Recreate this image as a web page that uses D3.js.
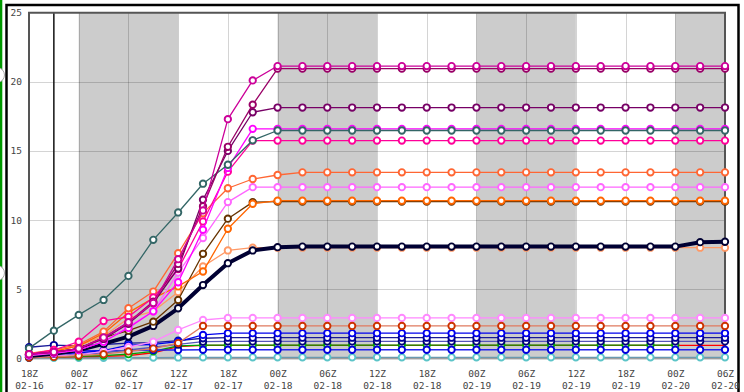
<!DOCTYPE html>
<html lang="en">
<head>
    <meta charset="UTF-8">
    <title>Snowfall plume</title>
    <style>
        body { margin: 0; background: #fff; }
        svg { display: block; }
        text { font-family: "DejaVu Sans Mono", monospace; font-size: 9.5px; fill: #444; }
    </style>
</head>
<body>
    <div id="chart"></div>

    <script src="https://d3js.org/d3.v7.min.js"></script>
    <script>
        // ---- data ----
        const startTime = "2024-02-16T18:00:00Z";
        const stepHours = 3;
        const nightBands = [
            ["2024-02-17T00:00:00Z", "2024-02-17T12:00:00Z"],
            ["2024-02-18T00:00:00Z", "2024-02-18T12:00:00Z"],
            ["2024-02-19T00:00:00Z", "2024-02-19T12:00:00Z"],
            ["2024-02-20T00:00:00Z", "2024-02-20T06:00:00Z"]
        ];
        const nowMarker = "2024-02-16T21:00:00Z";
        const tickTimes = ["2024-02-16T18:00:00Z", "2024-02-17T00:00:00Z", "2024-02-17T06:00:00Z", "2024-02-17T12:00:00Z",
            "2024-02-17T18:00:00Z", "2024-02-18T00:00:00Z", "2024-02-18T06:00:00Z", "2024-02-18T12:00:00Z",
            "2024-02-18T18:00:00Z", "2024-02-19T00:00:00Z", "2024-02-19T06:00:00Z", "2024-02-19T12:00:00Z",
            "2024-02-19T18:00:00Z", "2024-02-20T00:00:00Z", "2024-02-20T06:00:00Z"];
        const tickHours = ["18Z", "00Z", "06Z", "12Z", "18Z", "00Z", "06Z", "12Z", "18Z", "00Z", "06Z", "12Z", "18Z", "00Z", "06Z"];
        const tickDays = ["02-16", "02-17", "02-17", "02-17", "02-17", "02-18", "02-18", "02-18", "02-18", "02-19", "02-19", "02-19", "02-19", "02-20", "02-20"];
        const yTicks = [0, 5, 10, 15, 20, 25];

        const cyan = [0.03, 0.03, 0.03, 0.04, 0.05, 0.05, 0.06, 0.07, 0.07, 0.07, 0.07, 0.07, 0.07, 0.07, 0.07, 0.07, 0.07, 0.07, 0.07, 0.07, 0.07, 0.07, 0.07, 0.07, 0.07, 0.07, 0.07, 0.07, 0.07];
        const red = [0.05, 0.08, 0.1, 0.15, 0.2, 0.4, 0.85, 0.93, 0.93, 0.93, 0.93, 0.93, 0.93, 0.93, 0.93, 0.93, 0.93, 0.93, 0.93, 0.93, 0.93, 0.93, 0.93, 0.93, 0.93, 0.93, 0.93, 0.93, 0.93];
        const green = [0.05, 0.1, 0.15, 0.2, 0.3, 0.5, 0.9, 0.96, 0.96, 0.96, 0.96, 0.96, 0.96, 0.96, 0.96, 0.96, 0.96, 0.96, 0.96, 0.96, 0.96, 0.96, 0.96, 0.96, 0.96, 0.96, 0.96, null, null];
        const blueLow = [0.05, 0.4, 0.55, 0.55, 0.55, 0.6, 0.6, 0.62, 0.62, 0.62, 0.62, 0.62, 0.62, 0.62, 0.62, 0.62, 0.62, 0.62, 0.62, 0.62, 0.62, 0.62, 0.62, 0.62, 0.62, 0.62, 0.62, 0.62, 0.62];
        const navyBlue = [0.1, 0.2, 0.3, 0.4, 0.6, 0.8, 1.0, 1.2, 1.22, 1.22, 1.22, 1.22, 1.22, 1.22, 1.22, 1.22, 1.22, 1.22, 1.22, 1.22, 1.22, 1.22, 1.22, 1.22, 1.22, 1.22, 1.22, 1.22, 1.22];
        const darkBlue = [0.8, 0.96, 0.9, 1.0, 1.1, 1.13, 1.28, 1.45, 1.49, 1.49, 1.49, 1.49, 1.49, 1.49, 1.49, 1.49, 1.49, 1.49, 1.49, 1.49, 1.49, 1.49, 1.49, 1.49, 1.49, 1.49, 1.49, 1.49, 1.49];
        const blue = [0.2, 0.3, 0.4, 0.55, 0.96, 1.0, 1.2, 1.69, 1.82, 1.82, 1.82, 1.82, 1.82, 1.82, 1.82, 1.82, 1.82, 1.82, 1.82, 1.82, 1.82, 1.82, 1.82, 1.82, 1.82, 1.82, 1.82, 1.82, 1.82];
        const violet = [0.1, 0.15, 0.25, 0.5, 0.8, 1.2, 2.05, 2.77, 2.92, 2.92, 2.92, 2.92, 2.92, 2.92, 2.92, 2.92, 2.92, 2.92, 2.92, 2.92, 2.92, 2.92, 2.92, 2.92, 2.92, 2.92, 2.92, 2.92, 2.92];
        const redOrange = [0.05, 0.1, 0.2, 0.3, 0.5, 0.7, 1.1, 2.34, 2.34, 2.34, 2.34, 2.34, 2.34, 2.34, 2.34, 2.34, 2.34, 2.34, 2.34, 2.34, 2.34, 2.34, 2.34, 2.34, 2.34, 2.34, 2.34, 2.34, 2.34];
        const lightOrange = [0.3, 0.5, 0.9, 1.6, 2.9, 3.4, 4.8, 6.64, 7.8, 8.0, 8.0, 8.0, 8.0, 8.0, 8.0, 8.0, 8.0, 8.0, 8.0, 8.0, 8.0, 8.0, 8.0, 8.0, 8.0, 8.0, 8.0, 8.0, 8.0];
        const navy = [0.17, 0.33, 0.6, 1.04, 1.57, 2.34, 3.62, 5.3, 6.88, 7.8, 8.04, 8.08, 8.08, 8.08, 8.08, 8.08, 8.08, 8.08, 8.08, 8.08, 8.08, 8.08, 8.08, 8.08, 8.08, 8.08, 8.08, 8.4, 8.43];
        const brown = [0.25, 0.4, 0.7, 1.5, 2.0, 2.65, 4.22, 7.56, 10.1, 11.3, 11.33, 11.33, 11.33, 11.33, 11.33, 11.33, 11.33, 11.33, 11.33, 11.33, 11.33, 11.33, 11.33, 11.33, 11.33, 11.33, 11.33, 11.33, 11.33];
        const orange = [0.3, 0.5, 0.9, 1.8, 3.3, 4.35, 5.2, 6.28, 9.37, 11.18, 11.4, 11.4, 11.4, 11.4, 11.4, 11.4, 11.4, 11.4, 11.4, 11.4, 11.4, 11.4, 11.4, 11.4, 11.4, 11.4, 11.4, 11.4, 11.4];
        const lightPink = [0.2, 0.35, 0.6, 1.2, 2.3, 3.4, 6.2, 8.7, 11.3, 12.38, 12.38, 12.38, 12.38, 12.38, 12.38, 12.38, 12.38, 12.38, 12.38, 12.38, 12.38, 12.38, 12.38, 12.38, 12.38, 12.38, 12.38, 12.38, 12.38];
        const coral = [0.35, 0.6, 1.0, 1.93, 3.62, 4.83, 7.6, 10.5, 12.3, 12.97, 13.26, 13.45, 13.45, 13.45, 13.45, 13.45, 13.45, 13.45, 13.45, 13.45, 13.45, 13.45, 13.45, 13.45, 13.45, 13.45, 13.45, 13.45, 13.45];
        const hotPink = [0.3, 0.6, 1.2, 2.7, 3.0, 4.4, 6.45, 9.9, 13.5, 15.75, 15.75, 15.75, 15.75, 15.75, 15.75, 15.75, 15.75, 15.75, 15.75, 15.75, 15.75, 15.75, 15.75, 15.75, 15.75, 15.75, 15.75, 15.75, 15.75];
        const magenta = [0.25, 0.4, 0.6, 1.2, 2.2, 3.4, 5.5, 9.3, 13.77, 16.6, 16.6, 16.6, 16.6, 16.6, 16.6, 16.6, 16.6, 16.6, 16.6, 16.6, 16.6, 16.6, 16.6, 16.6, 16.6, 16.6, 16.6, 16.6, 16.6];
        const teal = [0.72, 2.0, 3.14, 4.22, 5.96, 8.57, 10.55, 12.63, 14.0, 15.77, 16.48, 16.48, 16.48, 16.48, 16.48, 16.48, 16.48, 16.48, 16.48, 16.48, 16.48, 16.48, 16.48, 16.48, 16.48, 16.48, 16.48, 16.48, 16.48];
        const purple = [0.3, 0.45, 0.7, 1.4, 2.5, 4.0, 6.5, 11.47, 15.0, 17.8, 18.14, 18.14, 18.14, 18.14, 18.14, 18.14, 18.14, 18.14, 18.14, 18.14, 18.14, 18.14, 18.14, 18.14, 18.14, 18.14, 18.14, 18.14, 18.14];
        const plum = [0.3, 0.45, 0.7, 1.5, 2.6, 4.1, 6.83, 11.0, 15.3, 18.35, 20.95, 20.95, 20.95, 20.95, 20.95, 20.95, 20.95, 20.95, 20.95, 20.95, 20.95, 20.95, 20.95, 20.95, 20.95, 20.95, 20.95, 20.95, 20.95];
        const fuchsia = [0.3, 0.45, 0.7, 1.5, 2.6, 4.0, 7.17, 10.7, 17.3, 20.1, 21.14, 21.14, 21.14, 21.14, 21.14, 21.14, 21.14, 21.14, 21.14, 21.14, 21.14, 21.14, 21.14, 21.14, 21.14, 21.14, 21.14, 21.14, 21.14];

        // draw order: first listed sits underneath
        const series = [
            { name: "cyan", values: cyan, color: "#5cc4c8", line: "#6a9ab0" },
            { name: "red", values: red, color: "#ff0000", line: "#ff0000", noDots: true },
            { name: "green", values: green, color: "#00aa00", line: "#00a000" },
            { name: "blueLow", values: blueLow, color: "#0000dd", line: "#2222ee" },
            { name: "navyBlue", values: navyBlue, color: "#000077", line: "#5555bb" },
            { name: "darkBlue", values: darkBlue, color: "#000099", line: "#1a1a99" },
            { name: "blue", values: blue, color: "#0000ee", line: "#0000ee" },
            { name: "violet", values: violet, color: "#ff88ff", line: "#ff88ff" },
            { name: "redOrange", values: redOrange, color: "#cc3300", line: "#e07a5f" },
            { name: "lightOrange", values: lightOrange, color: "#ff9966", line: "#ff9966" },
            { name: "navy", values: navy, color: "#000033", line: "#000033", width: 4 },
            { name: "brown", values: brown, color: "#663300", line: "#663300" },
            { name: "orange", values: orange, color: "#ff6600", line: "#ff6600" },
            { name: "lightPink", values: lightPink, color: "#ff66ff", line: "#ff66ff" },
            { name: "coral", values: coral, color: "#ff6633", line: "#ff6633" },
            { name: "hotPink", values: hotPink, color: "#ff0099", line: "#ff0099" },
            { name: "magenta", values: magenta, color: "#ff00ff", line: "#ff00ff" },
            { name: "teal", values: teal, color: "#336666", line: "#336666" },
            { name: "purple", values: purple, color: "#770066", line: "#770066" },
            { name: "plum", values: plum, color: "#990066", line: "#990066" },
            { name: "fuchsia", values: fuchsia, color: "#cc0099", line: "#cc0099" }
        ];

        // ---- layout ----
        const width = 744;
        const height = 392;
        const plot = { left: 29, right: 725, top: 12.7, bottom: 358.3 };

        const t0 = new Date(startTime);
        const times = d3.range(cyan.length).map(i => d3.utcHour.offset(t0, i * stepHours));

        const x = d3.scaleUtc()
            .domain([t0, new Date(tickTimes[tickTimes.length - 1])])
            .range([plot.left, plot.right]);
        const y = d3.scaleLinear()
            .domain([0, 25])
            .range([plot.bottom, plot.top]);

        const svg = d3.select("#chart").append("svg")
            .attr("width", width)
            .attr("height", height);

        // page frame bits
        svg.append("rect").attr("x", 0).attr("y", 0).attr("width", 2.3).attr("height", height).attr("fill", "#009900");
        svg.append("path")
            .attr("d", `M6.5,${height} V5 H738.5 V${height}`)
            .attr("fill", "none").attr("stroke", "#000").attr("stroke-width", 2.5);
        svg.selectAll("circle.handle")
            .data([75, 273])
            .enter().append("circle")
            .attr("class", "handle")
            .attr("cx", -3).attr("cy", d => d).attr("r", 7.5)
            .attr("fill", "#fff").attr("stroke", "#aaa").attr("stroke-width", 1);

        // night shading
        svg.append("g").selectAll("rect")
            .data(nightBands)
            .enter().append("rect")
            .attr("x", d => x(new Date(d[0])))
            .attr("y", plot.top)
            .attr("width", d => x(new Date(d[1])) - x(new Date(d[0])))
            .attr("height", plot.bottom - plot.top)
            .attr("fill", "#cccccc");

        // grid
        const grid = svg.append("g").attr("stroke", "#000").attr("stroke-opacity", 0.17).attr("stroke-width", 1);
        grid.selectAll("line.v")
            .data(tickTimes.slice(1, -1))
            .enter().append("line")
            .attr("x1", d => Math.round(x(new Date(d))) + 0.5)
            .attr("x2", d => Math.round(x(new Date(d))) + 0.5)
            .attr("y1", plot.top).attr("y2", plot.bottom);
        grid.selectAll("line.h")
            .data(yTicks.slice(1, -1))
            .enter().append("line")
            .attr("x1", plot.left).attr("x2", plot.right)
            .attr("y1", d => Math.round(y(d)) + 0.5)
            .attr("y2", d => Math.round(y(d)) + 0.5);

        // current-run marker
        svg.append("line")
            .attr("x1", x(new Date(nowMarker))).attr("x2", x(new Date(nowMarker)))
            .attr("y1", plot.top).attr("y2", plot.bottom)
            .attr("stroke", "#111").attr("stroke-width", 1.5);

        // plot border
        svg.append("line")
            .attr("x1", plot.left).attr("x2", plot.right)
            .attr("y1", plot.bottom + 0.5).attr("y2", plot.bottom + 0.5)
            .attr("stroke", "#777").attr("stroke-width", 1);
        svg.append("path")
            .attr("d", `M${plot.left},${plot.bottom + 1} V${plot.top} H${plot.right} V${plot.bottom + 1}`)
            .attr("fill", "none").attr("stroke", "#555").attr("stroke-width", 2);

        // series
        const line = d3.line()
            .defined(d => d.v != null)
            .x(d => x(d.t))
            .y(d => y(d.v));

        const groups = svg.append("g").selectAll("g")
            .data(series)
            .enter().append("g");

        groups.append("path")
            .attr("d", s => line(s.values.map((v, i) => ({ t: times[i], v: v }))))
            .attr("fill", "none")
            .attr("stroke", s => s.line)
            .attr("stroke-width", s => s.width || 1.3)
            .attr("stroke-linejoin", "round");

        groups.filter(s => !s.noDots).selectAll("circle")
            .data(s => s.values.map((v, i) => ({ t: times[i], v: v, c: s.color })).filter(d => d.v != null))
            .enter().append("circle")
            .attr("cx", d => x(d.t))
            .attr("cy", d => y(d.v))
            .attr("r", 3.2)
            .attr("fill", "#fff")
            .attr("stroke", d => d.c)
            .attr("stroke-width", 1.9);

        // y axis labels
        const yAxis = d3.axisLeft(y).tickValues(yTicks).tickSize(0).tickPadding(0);
        svg.append("g")
            .attr("transform", "translate(22,0)")
            .call(yAxis)
            .call(g => g.select(".domain").remove())
            .selectAll("text")
            .attr("font-family", null).attr("font-size", null).attr("fill", null);

        // x axis labels (two rows)
        const xAxis = d3.axisBottom(x)
            .tickValues(tickTimes.map(d => new Date(d)))
            .tickSize(0)
            .tickFormat((d, i) => tickHours[i]);
        const xg = svg.append("g")
            .attr("transform", `translate(0,${plot.bottom + 9})`)
            .call(xAxis)
            .call(g => g.select(".domain").remove());
        xg.selectAll("text")
            .attr("font-family", null).attr("font-size", null).attr("fill", null)
            .each(function (d, i) {
                d3.select(this).append("tspan")
                    .attr("x", 0).attr("dy", "1.3em")
                    .text(tickDays[i]);
            });
    </script>
</body>
</html>
